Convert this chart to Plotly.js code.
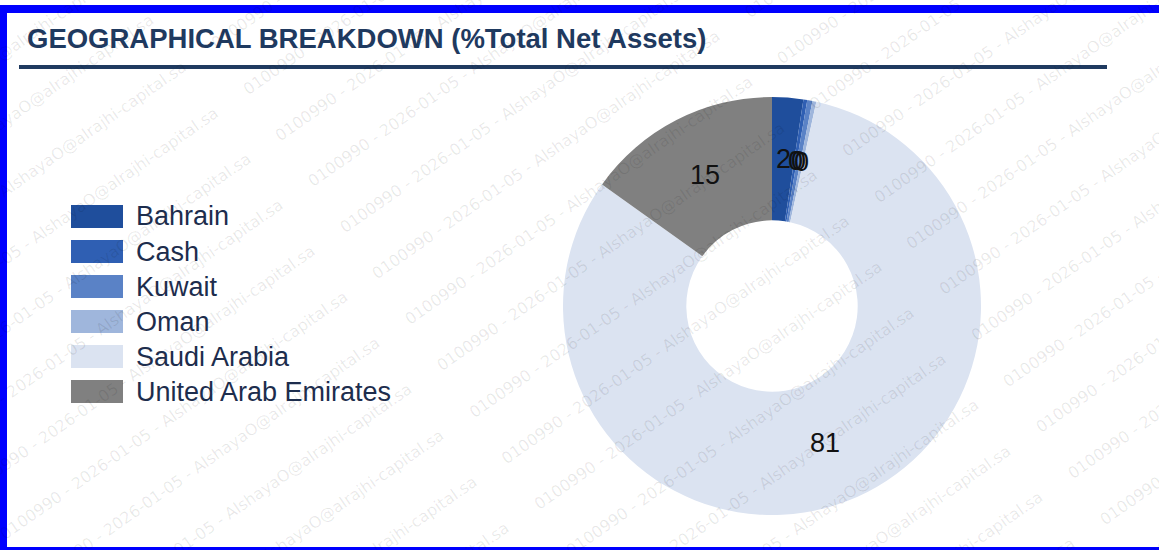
<!DOCTYPE html>
<html>
<head>
<meta charset="utf-8">
<script src="https://cdn.plot.ly/plotly-3.0.1.min.js"></script>
<style>
  html, body { margin: 0; padding: 0; background: #fff; }
  #chart { width: 1159px; height: 550px; }
</style>
</head>
<body>
<div id="chart"></div>
<script>
/* Geographical breakdown donut (% of total net assets) */
var LABELS = ['Bahrain', 'Cash', 'Kuwait', 'Oman', 'Saudi Arabia', 'United Arab Emirates'];
var VALUES = [2.4, 0.3, 0.4, 0.3, 81.4, 15.1];
var COLORS = ['#1f4e9c', '#2f5fb3', '#5a82c6', '#9fb6dc', '#dbe3f1', '#808080'];
var TITLE = 'GEOGRAPHICAL BREAKDOWN (%Total Net Assets)';
var WATERMARK = '0100990 - 2026-01-05 - AlshayaO@alrajhi-capital.sa';

(function () {
  'use strict';
  var W = 1159, H = 550;
  var NAVY = '#1f3a60';
  var FONT = 'Liberation Sans, Arial, sans-serif';
  function px(x) { return x / W; }
  function py(y) { return 1 - y / H; }

  /* donut geometry in pixels */
  var CX = 772, CY = 306, R_OUT = 209, HOLE = 0.41;

  var shapes = [], annotations = [];

  /* faint diagonal watermark, tiled along 35deg lines */
  var ang = 35 * Math.PI / 180;
  var ux = Math.cos(ang), uy = -Math.sin(ang);   // along the text
  var vx = Math.sin(ang), vy = Math.cos(ang);    // between lines
  var ox = 847, oy = 157, rowGap = 56.3, period = 455, half = 210;
  for (var r = -14; r <= 14; r++) {
    for (var k = -4; k <= 4; k++) {
      var sx = ox + r * rowGap * vx + k * period * ux;
      var sy = oy + r * rowGap * vy + k * period * uy;
      var cx = sx + half * ux - 5.5 * vx, cy = sy + half * uy - 5.5 * vy;
      if (cx < -260 || cx > W + 260 || cy < -200 || cy > H + 200) continue;
      annotations.push({
        xref: 'paper', yref: 'paper', x: px(cx), y: py(cy),
        xanchor: 'center', yanchor: 'middle', showarrow: false,
        text: WATERMARK, textangle: -35,
        font: { family: 'DejaVu Sans, Verdana, sans-serif', size: 16, color: 'rgba(0,0,0,0.09)' }
      });
    }
  }

  /* slice values, centred on the ring at each slice's mid angle */
  var total = VALUES.reduce(function (a, b) { return a + b; }, 0);
  var rMid = R_OUT * (1 + HOLE) / 2, cum = 0;
  VALUES.forEach(function (v) {
    var th = 2 * Math.PI * (cum + v / 2) / total;
    cum += v;
    annotations.push({
      xref: 'paper', yref: 'paper',
      x: px(CX + rMid * Math.sin(th)), y: py(CY - rMid * Math.cos(th)),
      xanchor: 'center', yanchor: 'middle', showarrow: false,
      text: String(Math.round(v)),
      font: { family: FONT, size: 27, color: '#111111' }
    });
  });

  /* legend: wide swatches + labels */
  LABELS.forEach(function (lab, i) {
    var yc = 216.5 + 35 * i;
    shapes.push({
      type: 'rect', xref: 'paper', yref: 'paper', layer: 'above',
      x0: px(71), x1: px(123), y0: py(yc + 11.5), y1: py(yc - 11.5),
      fillcolor: COLORS[i], line: { width: 0 }
    });
    annotations.push({
      xref: 'paper', yref: 'paper', x: px(134), y: py(yc),
      xanchor: 'left', yanchor: 'middle', showarrow: false, text: lab,
      font: { family: FONT, size: 27, color: '#1d2d4d' }
    });
  });

  /* title rule + blue page frame */
  shapes.push({ type: 'rect', xref: 'paper', yref: 'paper', x0: px(19), x1: px(1107), y0: py(69), y1: py(65), fillcolor: NAVY, line: { width: 0 } });
  shapes.push({ type: 'rect', xref: 'paper', yref: 'paper', x0: 0, x1: px(7), y0: 0, y1: py(5), fillcolor: '#0000ff', line: { width: 0 } });
  shapes.push({ type: 'rect', xref: 'paper', yref: 'paper', x0: 0, x1: 1, y0: py(13), y1: py(5), fillcolor: '#0000ff', line: { width: 0 } });
  shapes.push({ type: 'rect', xref: 'paper', yref: 'paper', x0: 0, x1: 1, y0: 0, y1: py(547), fillcolor: '#0000ff', line: { width: 0 } });

  var trace = {
    type: 'pie',
    labels: LABELS,
    values: VALUES,
    marker: { colors: COLORS, line: { width: 0 } },
    hole: HOLE,
    sort: false,
    direction: 'clockwise',
    rotation: 0,
    domain: { x: [px(CX - R_OUT), px(CX + R_OUT)], y: [py(CY + R_OUT), py(CY - R_OUT)] },
    textinfo: 'none',
    hoverinfo: 'skip',
    showlegend: false
  };

  Plotly.newPlot('chart', [trace], {
    width: W, height: H,
    margin: { l: 0, r: 0, t: 0, b: 0 },
    paper_bgcolor: '#ffffff',
    title: {
      text: '<b>' + TITLE + '</b>',
      xref: 'paper', yref: 'container', x: px(27), xanchor: 'left', y: py(38), yanchor: 'middle',
      font: { family: FONT, size: 27.5, color: NAVY }
    },
    shapes: shapes,
    annotations: annotations
  }, { displayModeBar: false, staticPlot: true });
})();
</script>
</body>
</html>
